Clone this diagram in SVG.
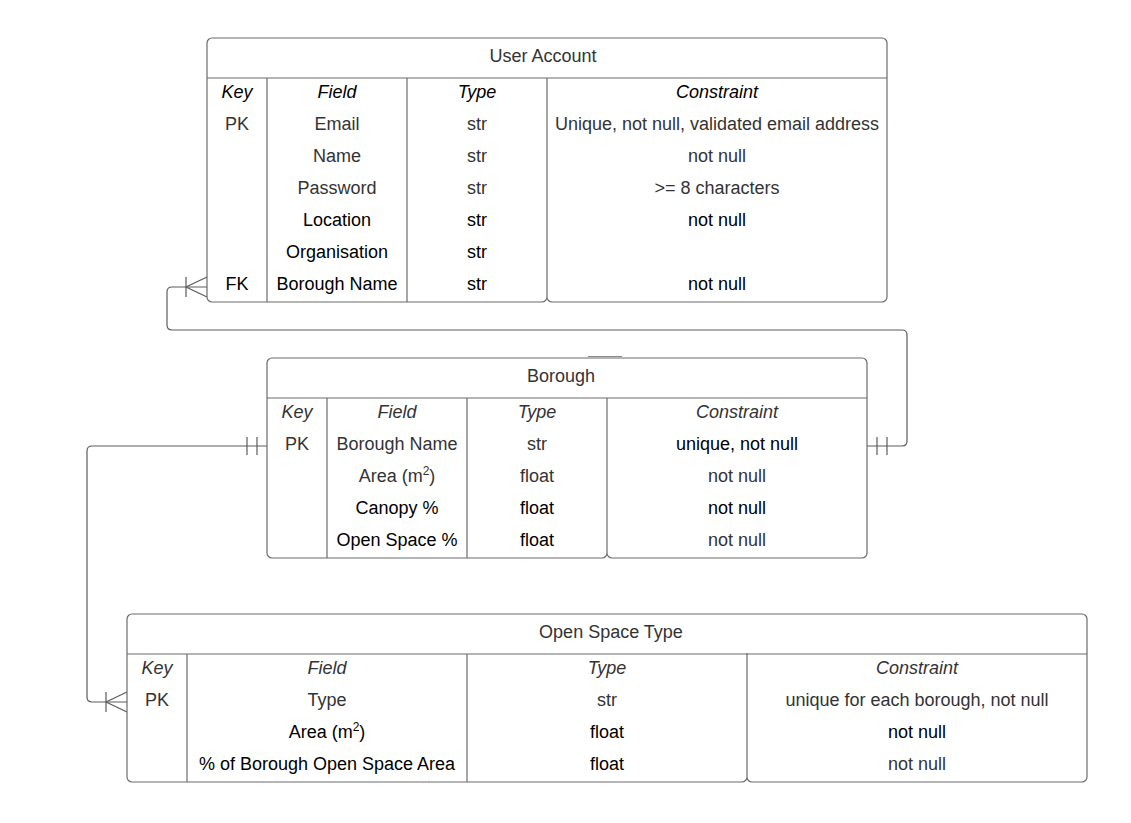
<svg xmlns="http://www.w3.org/2000/svg" width="1131" height="823" viewBox="0 0 1131 823">
<style>
  .box{fill:#ffffff;stroke:#6b6b6b;stroke-width:1.2}
  .ln{fill:none;stroke:#6b6b6b;stroke-width:1.2}
  .cn{fill:none;stroke:#5c5c5c;stroke-width:1.2}
  text{font-family:"Liberation Sans",Arial,sans-serif;font-size:18px;text-anchor:middle}
  .g{fill:#333333}
  .k{fill:#000000}
  .h{font-style:italic}
  .sup{font-size:12px}
</style>
<rect x="0" y="0" width="1131" height="823" fill="#ffffff"/>

<g id="connectors">
  <path class="cn" d="M207,287 H172 Q167,287 167,292 V325 Q167,330 172,330 H902 Q907,330 907,335 V441 Q907,446 902,446 H867"/>
  <path class="cn" d="M207,277 L186,287 L207,297 M186,277 V297"/>
  <path class="cn" d="M877,437 V455 M887,437 V455"/>
  <path class="cn" d="M267,446 H92 Q87,446 87,451 V697 Q87,702 92,702 H127"/>
  <path class="cn" d="M247,437 V455 M257,437 V455"/>
  <path class="cn" d="M127,692 L106,702 L127,712 M106,692 V712"/>
</g>

<g id="user-account">
  <path class="box" d="M212,38 H882 A5,5 0 0 1 887,43 V297 A5,5 0 0 1 882,302 H552 A5,5 0 0 1 547,297 A5,5 0 0 1 542,302 H212 A5,5 0 0 1 207,297 V43 A5,5 0 0 1 212,38 Z"/>
  <path class="ln" d="M207,78 H887 M267,78 V302 M407,78 V302 M547,78 V297"/>
  <text class="g" x="543" y="62">User Account</text>
  <text class="k h" x="237" y="98">Key</text>
  <text class="k h" x="337" y="98">Field</text>
  <text class="k h" x="477" y="98">Type</text>
  <text class="k h" x="717" y="98">Constraint</text>
  <text class="g" x="237" y="130">PK</text>
  <text class="g" x="337" y="130">Email</text>
  <text class="g" x="477" y="130">str</text>
  <text class="g" x="717" y="130">Unique, not null, validated email address</text>
  <text class="g" x="337" y="162">Name</text>
  <text class="g" x="477" y="162">str</text>
  <text class="g" x="717" y="162">not null</text>
  <text class="g" x="337" y="194">Password</text>
  <text class="g" x="477" y="194">str</text>
  <text class="g" x="717" y="194">&gt;= 8 characters</text>
  <text class="k" x="337" y="226">Location</text>
  <text class="k" x="477" y="226">str</text>
  <text class="k" x="717" y="226">not null</text>
  <text class="k" x="337" y="258">Organisation</text>
  <text class="k" x="477" y="258">str</text>
  <text class="k" x="237" y="290">FK</text>
  <text class="k" x="337" y="290">Borough Name</text>
  <text class="k" x="477" y="290">str</text>
  <text class="k" x="717" y="290">not null</text>
</g>

<g id="borough">
  <path class="box" d="M272,358 H862 A5,5 0 0 1 867,363 V553 A5,5 0 0 1 862,558 H612 A5,5 0 0 1 607,553 A5,5 0 0 1 602,558 H272 A5,5 0 0 1 267,553 V363 A5,5 0 0 1 272,358 Z"/>
  <path class="ln" d="M267,398 H867 M327,398 V558 M467,398 V558 M607,398 V553"/>
  <path d="M588,356.5 H622" stroke="#8a8a8a" stroke-width="1.2" fill="none"/>
  <text class="g" x="561" y="382">Borough</text>
  <text class="g h" x="297" y="418">Key</text>
  <text class="g h" x="397" y="418">Field</text>
  <text class="g h" x="537" y="418">Type</text>
  <text class="g h" x="737" y="418">Constraint</text>
  <text class="g" x="297" y="450">PK</text>
  <text class="g" x="397" y="450">Borough Name</text>
  <text class="g" x="537" y="450">str</text>
  <text class="k" x="737" y="450">unique, not null</text>
  <text class="g" x="397" y="482">Area (m<tspan class="sup" dy="-7">2</tspan><tspan dy="7">)</tspan></text>
  <text class="g" x="537" y="482">float</text>
  <text class="g" x="737" y="482">not null</text>
  <text class="k" x="397" y="514">Canopy %</text>
  <text class="k" x="537" y="514">float</text>
  <text class="k" x="737" y="514">not null</text>
  <text class="k" x="397" y="546">Open Space %</text>
  <text class="k" x="537" y="546">float</text>
  <text class="g" x="737" y="546">not null</text>
</g>

<g id="open-space-type">
  <path class="box" d="M132,614 H1082 A5,5 0 0 1 1087,619 V777 A5,5 0 0 1 1082,782 H752 A5,5 0 0 1 747,777 A5,5 0 0 1 742,782 H132 A5,5 0 0 1 127,777 V619 A5,5 0 0 1 132,614 Z"/>
  <path class="ln" d="M127,654 H1087 M187,654 V782 M467,654 V782 M747,653 V777"/>
  <text class="g" x="611" y="638">Open Space Type</text>
  <text class="g h" x="157" y="674">Key</text>
  <text class="g h" x="327" y="674">Field</text>
  <text class="g h" x="607" y="674">Type</text>
  <text class="g h" x="917" y="674">Constraint</text>
  <text class="g" x="157" y="706">PK</text>
  <text class="g" x="327" y="706">Type</text>
  <text class="g" x="607" y="706">str</text>
  <text class="g" x="917" y="706">unique for each borough, not null</text>
  <text class="k" x="327" y="738">Area (m<tspan class="sup" dy="-7">2</tspan><tspan dy="7">)</tspan></text>
  <text class="k" x="607" y="738">float</text>
  <text class="k" x="917" y="738">not null</text>
  <text class="k" x="327" y="770">% of Borough Open Space Area</text>
  <text class="k" x="607" y="770">float</text>
  <text class="g" x="917" y="770">not null</text>
</g>
</svg>
